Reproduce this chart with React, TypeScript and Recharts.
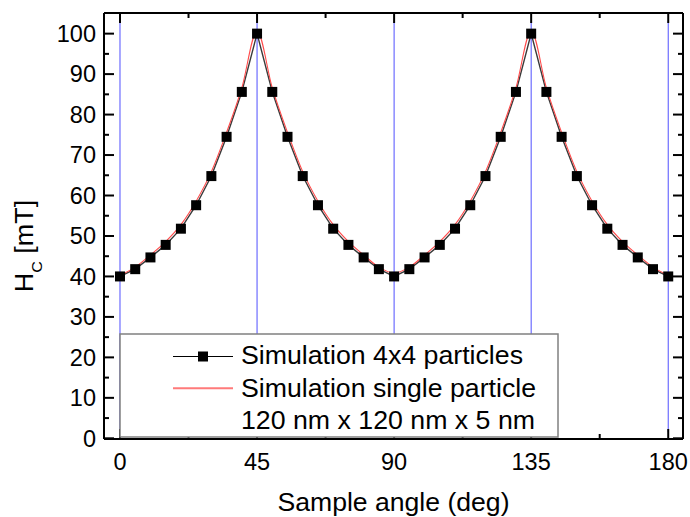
import { Line, LineChart, ReferenceLine, XAxis, YAxis } from "recharts";

const angles = [
  0, 5, 10, 15, 20, 25, 30, 35, 40, 45, 50, 55, 60, 65, 70, 75, 80, 85, 90,
  95, 100, 105, 110, 115, 120, 125, 130, 135, 140, 145, 150, 155, 160, 165,
  170, 175, 180,
];

// Simulation 4x4 particles (squares)
const hc4x4 = [
  40, 41.8, 44.7, 47.8, 51.8, 57.6, 64.8, 74.5, 85.6, 100, 85.6, 74.5, 64.8,
  57.6, 51.8, 47.8, 44.7, 41.8, 40, 41.8, 44.7, 47.8, 51.8, 57.6, 64.8, 74.5,
  85.6, 100, 85.6, 74.5, 64.8, 57.6, 51.8, 47.8, 44.7, 41.8, 40,
];

// Simulation single particle (red line)
const hcSingle = [
  40.3, 42.3, 45.3, 48.6, 52.8, 58.6, 65.9, 75.6, 86.6, 100.6, 86.6, 75.6,
  65.9, 58.6, 52.8, 48.6, 45.3, 42.3, 40.8, 42.3, 45.3, 48.6, 52.8, 58.6,
  65.9, 75.6, 86.6, 100.6, 86.6, 75.6, 65.9, 58.6, 52.8, 48.6, 45.3, 42.3,
  40.3,
];

const markerAngles = [0, 45, 90, 135, 180];
const majorX = [0, 45, 90, 135, 180];
const minorX = [22.5, 67.5, 112.5, 157.5];
const majorY = [0, 10, 20, 30, 40, 50, 60, 70, 80, 90, 100];
const minorY = [5, 15, 25, 35, 45, 55, 65, 75, 85, 95];

const legendLabels = [
  "Simulation 4x4 particles",
  "Simulation single particle",
  "120 nm x 120 nm x 5 nm",
];
const legendWidths = [282, 295, 294];

const data = angles.map((angle, i) => ({
  angle,
  grid: hc4x4[i],
  single: hcSingle[i],
}));

const allX = [...majorX, ...minorX].sort((a, b) => a - b);
const allY = [...majorY, ...minorY].sort((a, b) => a - b);

const FONT = "'Liberation Sans', Arial, sans-serif";
const X_DOMAIN: [number, number] = [-5.25, 184.85];
const Y_DOMAIN: [number, number] = [-0.17, 105.1];
const axisStroke = { stroke: "#000", strokeWidth: 2 };
const TICK_FONT = 23.5;

const tickLen = (v: number, majors: number[]) => (majors.includes(v) ? 10 : 5);

function BottomTick(props: any) {
  const { x, y, payload } = props;
  const v = payload.value;
  const major = majorX.includes(v);
  return (
    <g>
      <line x1={x} y1={y} x2={x} y2={y - tickLen(v, majorX)} stroke="#000" strokeWidth={2} />
      {major && (
        <text x={x} y={y + 31} textAnchor="middle" fontSize={TICK_FONT} fontFamily={FONT} fill="#000">
          {v}
        </text>
      )}
    </g>
  );
}

function TopTick(props: any) {
  const { x, y, payload } = props;
  return (
    <line x1={x} y1={y} x2={x} y2={y + tickLen(payload.value, majorX)} stroke="#000" strokeWidth={2} />
  );
}

function LeftTick(props: any) {
  const { x, y, payload } = props;
  const v = payload.value;
  const major = majorY.includes(v);
  return (
    <g>
      <line x1={x} y1={y} x2={x + tickLen(v, majorY)} y2={y} stroke="#000" strokeWidth={2} />
      {major && (
        <text x={x - 8} y={y + 8.3} textAnchor="end" fontSize={TICK_FONT} fontFamily={FONT} fill="#000">
          {v}
        </text>
      )}
    </g>
  );
}

function RightTick(props: any) {
  const { x, y, payload } = props;
  return (
    <line x1={x} y1={y} x2={x - tickLen(payload.value, majorY)} y2={y} stroke="#000" strokeWidth={2} />
  );
}

function SquareDot(props: any) {
  const { cx, cy } = props;
  if (cx == null || cy == null) return null;
  return <rect x={cx - 5} y={cy - 5} width={10} height={10} fill="#000" />;
}

function YTitle(props: any) {
  const vb = props.viewBox || { x: 0, y: 13, width: 104, height: 426 };
  const cx = 33;
  const cy = vb.y + vb.height / 2 + 20;
  return (
    <text
      transform={`translate(${cx}, ${cy}) rotate(-90) scale(1.08, 1)`}
      x={0}
      y={0}
      textAnchor="middle"
      fontSize={25}
      fontFamily={FONT}
      fill="#000"
    >
      H
      <tspan fontSize={15} dy={9}>
        C
      </tspan>
      <tspan dy={-9}> [mT]</tspan>
    </text>
  );
}

function XTitle(props: any) {
  const vb = props.viewBox || { x: 104, y: 439, width: 579, height: 78 };
  const cx = vb.x + vb.width / 2;
  return (
    <text
      x={cx - 116}
      y={vb.y + 72}
      textLength={232}
      lengthAdjust="spacingAndGlyphs"
      fontSize={25}
      fontFamily={FONT}
      fill="#000"
    >
      Sample angle (deg)
    </text>
  );
}

function LegendBox() {
  return (
    <svg
      width={440}
      height={105}
      style={{ position: "absolute", left: 119, top: 333 }}
    >
      <rect
        x={1}
        y={1}
        width={438}
        height={103}
        fill="#fff"
        stroke="#808080"
        strokeWidth={1.5}
      />
      <line x1={54} y1={23.5} x2={114} y2={23.5} stroke="#000" strokeWidth={1} />
      <rect x={79} y={18.5} width={10} height={10} fill="#000" />
      <line x1={54} y1={55.3} x2={114} y2={55.3} stroke="#ff7a7a" strokeWidth={2} />
      {legendLabels.map((label, i) => (
        <text
          key={label}
          x={122}
          y={31 + i * 32.5}
          textLength={legendWidths[i]}
          lengthAdjust="spacingAndGlyphs"
          fontSize={25}
          fontFamily={FONT}
          fill="#000"
        >
          {label}
        </text>
      ))}
    </svg>
  );
}

export default function App() {
  return (
    <div
      style={{
        position: "absolute",
        left: 0,
        top: 0,
        width: 690,
        height: 517,
        background: "#fff",
      }}
    >
      <LineChart
        width={690}
        height={517}
        data={data}
        margin={{ top: 13, right: 7, bottom: 0, left: 0 }}
        style={{ fontFamily: FONT }}
      >
        <XAxis
          xAxisId="xs"
          dataKey="angle"
          type="number"
          domain={X_DOMAIN}
          allowDataOverflow
          ticks={allX}
          interval={0}
          height={78}
          tickSize={0}
          tickMargin={0}
          tick={<BottomTick />}
          tickLine={false}
          axisLine={axisStroke}
          label={{ content: <XTitle /> }}
        />
        <XAxis
          xAxisId="xt"
          orientation="top"
          mirror
          dataKey="angle"
          type="number"
          domain={X_DOMAIN}
          allowDataOverflow
          ticks={allX}
          interval={0}
          height={1}
          tickSize={0}
          tickMargin={0}
          tick={<TopTick />}
          tickLine={false}
          axisLine={axisStroke}
        />
        <YAxis
          yAxisId="ys"
          type="number"
          domain={Y_DOMAIN}
          allowDataOverflow
          ticks={allY}
          interval={0}
          width={104}
          tickSize={0}
          tickMargin={0}
          tick={<LeftTick />}
          tickLine={false}
          axisLine={axisStroke}
          label={{ content: <YTitle /> }}
        />
        <YAxis
          yAxisId="yr"
          orientation="right"
          mirror
          type="number"
          domain={Y_DOMAIN}
          allowDataOverflow
          ticks={allY}
          interval={0}
          width={1}
          tickSize={0}
          tickMargin={0}
          tick={<RightTick />}
          tickLine={false}
          axisLine={axisStroke}
        />

        {markerAngles.map((a) => (
          <ReferenceLine
            key={a}
            xAxisId="xs"
            yAxisId="ys"
            segment={[
              { x: a, y: 1.5 },
              { x: a, y: 103 },
            ]}
            stroke="#4f4fff"
            strokeWidth={1}
          />
        ))}

        <Line
          xAxisId="xs"
          yAxisId="ys"
          type="linear"
          dataKey="grid"
          stroke="#3a3a3a"
          strokeWidth={1.4}
          dot={<SquareDot />}
          activeDot={false}
          isAnimationActive={false}
        />
        <Line
          xAxisId="xs"
          yAxisId="ys"
          type="monotone"
          dataKey="single"
          stroke="#ff4a4a"
          strokeWidth={1.1}
          dot={false}
          activeDot={false}
          isAnimationActive={false}
        />
      </LineChart>
      <LegendBox />
    </div>
  );
}
